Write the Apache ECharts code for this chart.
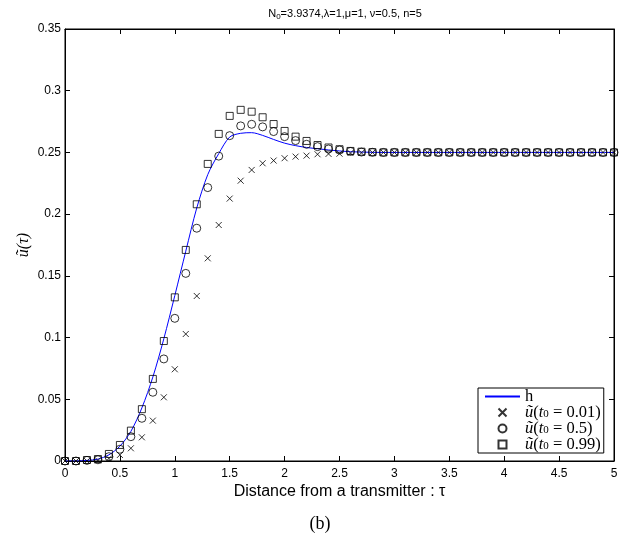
<!DOCTYPE html>
<html>
<head>
<meta charset="utf-8">
<script src="https://cdn.jsdelivr.net/npm/echarts@6/dist/echarts.min.js"></script>
<style>html,body{margin:0;padding:0;background:#fff;}#c{width:631px;height:540px;}</style>
</head>
<body>
<div id="c"></div>
<script>
var xs = [0,0.1,0.2,0.3,0.4,0.5,0.6,0.7,0.8,0.9,1,1.1,1.2,1.3,1.4,1.5,1.6,1.7,1.8,1.9,2,2.1,2.2,2.3,2.4,2.5,2.6,2.7,2.8,2.9,3,3.1,3.2,3.3,3.4,3.5,3.6,3.7,3.8,3.9,4,4.1,4.2,4.3,4.4,4.5,4.6,4.7,4.8,4.9,5];
var hVals = [0,0,0.0005,0.0015,0.005,0.012,0.024,0.043,0.068,0.099,0.134,0.17,0.205,0.232,0.249,0.2625,0.2655,0.266,0.2638,0.2605,0.2575,0.2555,0.254,0.253,0.252,0.2512,0.2506,0.2503,0.2501,0.25,0.25,0.25,0.25,0.25,0.25,0.25,0.25,0.25,0.25,0.25,0.25,0.25,0.25,0.25,0.25,0.25,0.25,0.25,0.25,0.25,0.25];
var u001 = [0,0,0,0.0005,0.002,0.0049,0.0103,0.0192,0.0327,0.0516,0.0743,0.1029,0.1337,0.1642,0.1912,0.2126,0.2271,0.2358,0.2412,0.2434,0.2453,0.2466,0.2474,0.2485,0.2488,0.249,0.2495,0.2497,0.2499,0.25,0.25,0.25,0.25,0.25,0.25,0.25,0.25,0.25,0.25,0.25,0.25,0.25,0.25,0.25,0.25,0.25,0.25,0.25,0.25,0.25,0.25];
var u05 = [0,0,0.0005,0.001,0.0035,0.0095,0.0197,0.0346,0.0557,0.0827,0.1156,0.152,0.1886,0.2215,0.247,0.2636,0.2715,0.2728,0.2707,0.2669,0.2628,0.2596,0.2566,0.2547,0.2528,0.252,0.2508,0.2503,0.2501,0.25,0.25,0.25,0.25,0.25,0.25,0.25,0.25,0.25,0.25,0.25,0.25,0.25,0.25,0.25,0.25,0.25,0.25,0.25,0.25,0.25,0.25];
var u099 = [0,0,0.0008,0.0016,0.0057,0.013,0.0246,0.042,0.0665,0.0972,0.1326,0.171,0.208,0.2407,0.265,0.2796,0.2845,0.283,0.2785,0.273,0.2674,0.2628,0.2593,0.256,0.254,0.2526,0.2512,0.2506,0.2502,0.25,0.25,0.25,0.25,0.25,0.25,0.25,0.25,0.25,0.25,0.25,0.25,0.25,0.25,0.25,0.25,0.25,0.25,0.25,0.25,0.25,0.25];
var seriesNames = ['h', 'u001', 'u05', 'u099'];
var legendLabels = {
  'h': 'h',
  'u001': '{i|ũ}({i|t}{s|0} = 0.01)',
  'u05': '{i|ũ}({i|t}{s|0} = 0.5)',
  'u099': '{i|ũ}({i|t}{s|0} = 0.99)'
};
var titleText = 'N{s|0}=3.9374,λ=1,μ=1, ν=0.5, n=5';

function pairs(ys) { return xs.map(function (x, i) { return [x, ys[i]]; }); }

var chart = echarts.init(document.getElementById('c'), null, {renderer: 'canvas'});
var sans = 'Liberation Sans';
var serif = 'Liberation Serif';
function axisCommon(o) {
  return Object.assign({
    axisLine: {show: true, onZero: false, lineStyle: {color: '#000', width: 1}},
    axisTick: {show: true, inside: true, length: 5, lineStyle: {color: '#000'}},
    splitLine: {show: false}
  }, o);
}
var option = {
  backgroundColor: '#fff',
  animation: false,
  title: [{
    text: titleText,
    left: 340, top: 2, textAlign: 'center',
    textStyle: {fontFamily: sans, fontSize: 11, fontWeight: 'normal', color: '#000',
      rich: {s: {fontFamily: sans, fontSize: 8, padding: [6, 0, 0, 0], color: '#000'}}}
  }, {
    text: '(b)',
    left: 315, top: 510, textAlign: 'center',
    textStyle: {fontFamily: serif, fontSize: 18, fontWeight: 'normal', color: '#000'}
  }],
  grid: {left: 65, right: 17, top: 29, bottom: 79, show: true, borderColor: '#000', borderWidth: 1, backgroundColor: 'rgba(0,0,0,0)'},
  xAxis: [axisCommon({
    type: 'value', min: 0, max: 5, interval: 0.5, position: 'bottom',
    name: 'Distance from a transmitter : τ', nameLocation: 'middle', nameGap: 23,
    nameMoveOverlap: false,
    nameTextStyle: {fontFamily: sans, fontSize: 16, color: '#000'},
    axisLabel: {fontFamily: sans, fontSize: 12, color: '#000', margin: 7}
  }), axisCommon({
    type: 'value', min: 0, max: 5, interval: 0.5, position: 'top',
    axisLabel: {show: false}
  })],
  yAxis: [axisCommon({
    type: 'value', min: 0, max: 0.35, interval: 0.05, position: 'left',
    name: 'ũ(τ)', nameLocation: 'middle', nameRotate: 90, nameGap: 33,
    nameMoveOverlap: false,
    nameTextStyle: {fontFamily: serif, fontStyle: 'italic', fontSize: 16, color: '#000'},
    axisLabel: {fontFamily: sans, fontSize: 12, color: '#000', margin: 4}
  }), axisCommon({
    type: 'value', min: 0, max: 0.35, interval: 0.05, position: 'right',
    axisLabel: {show: false}
  })],
  legend: {
    data: [
      {name: 'h', itemStyle: {color: 'rgba(0,0,0,0)', borderWidth: 0, opacity: 0}},
      {name: 'u001'}, {name: 'u05'}, {name: 'u099'}
    ],
    orient: 'vertical',
    left: 478, top: 388,
    itemWidth: 35, itemHeight: 8, itemGap: -1,
    padding: [0, 3, 0, 6],
    backgroundColor: '#fff',
    borderColor: '#000', borderWidth: 1, borderRadius: 0,
    formatter: function (name) { return legendLabels[name]; },
    textStyle: {fontFamily: serif, fontSize: 16.5, color: '#000', lineHeight: 15.5,
      rich: {
        i: {fontFamily: serif, fontStyle: 'italic', fontSize: 16.5, color: '#000', lineHeight: 15.5},
        s: {fontFamily: serif, fontSize: 11, color: '#000', padding: [4, 0, 0, 0], lineHeight: 11}
      }}
  },
  series: [{
    name: 'h', type: 'line', data: pairs(hVals), smooth: 0.3,
    xAxisIndex: 1, yAxisIndex: 1,
    symbol: 'none', showSymbol: false,
    lineStyle: {color: '#0000ff', width: 1}, itemStyle: {color: '#0000ff'}, z: 2
  }, {
    name: 'u001', type: 'scatter', data: pairs(u001),
    symbol: 'path://M0,0L10,10M0,10L10,0', symbolSize: 6, symbolKeepAspect: true,
    itemStyle: {color: 'rgba(0,0,0,0)', borderColor: '#000', borderWidth: 1}, z: 3
  }, {
    name: 'u05', type: 'scatter', data: pairs(u05),
    symbol: 'circle', symbolSize: 8,
    itemStyle: {color: 'rgba(0,0,0,0)', borderColor: '#000', borderWidth: 1}, z: 3
  }, {
    name: 'u099', type: 'scatter', data: pairs(u099),
    symbol: 'path://M0,0H10V10H0Z', symbolSize: 7, symbolKeepAspect: true,
    itemStyle: {color: 'rgba(0,0,0,0)', borderColor: '#000', borderWidth: 1}, z: 3
  }]
};
chart.setOption(option);
</script>
</body>
</html>
